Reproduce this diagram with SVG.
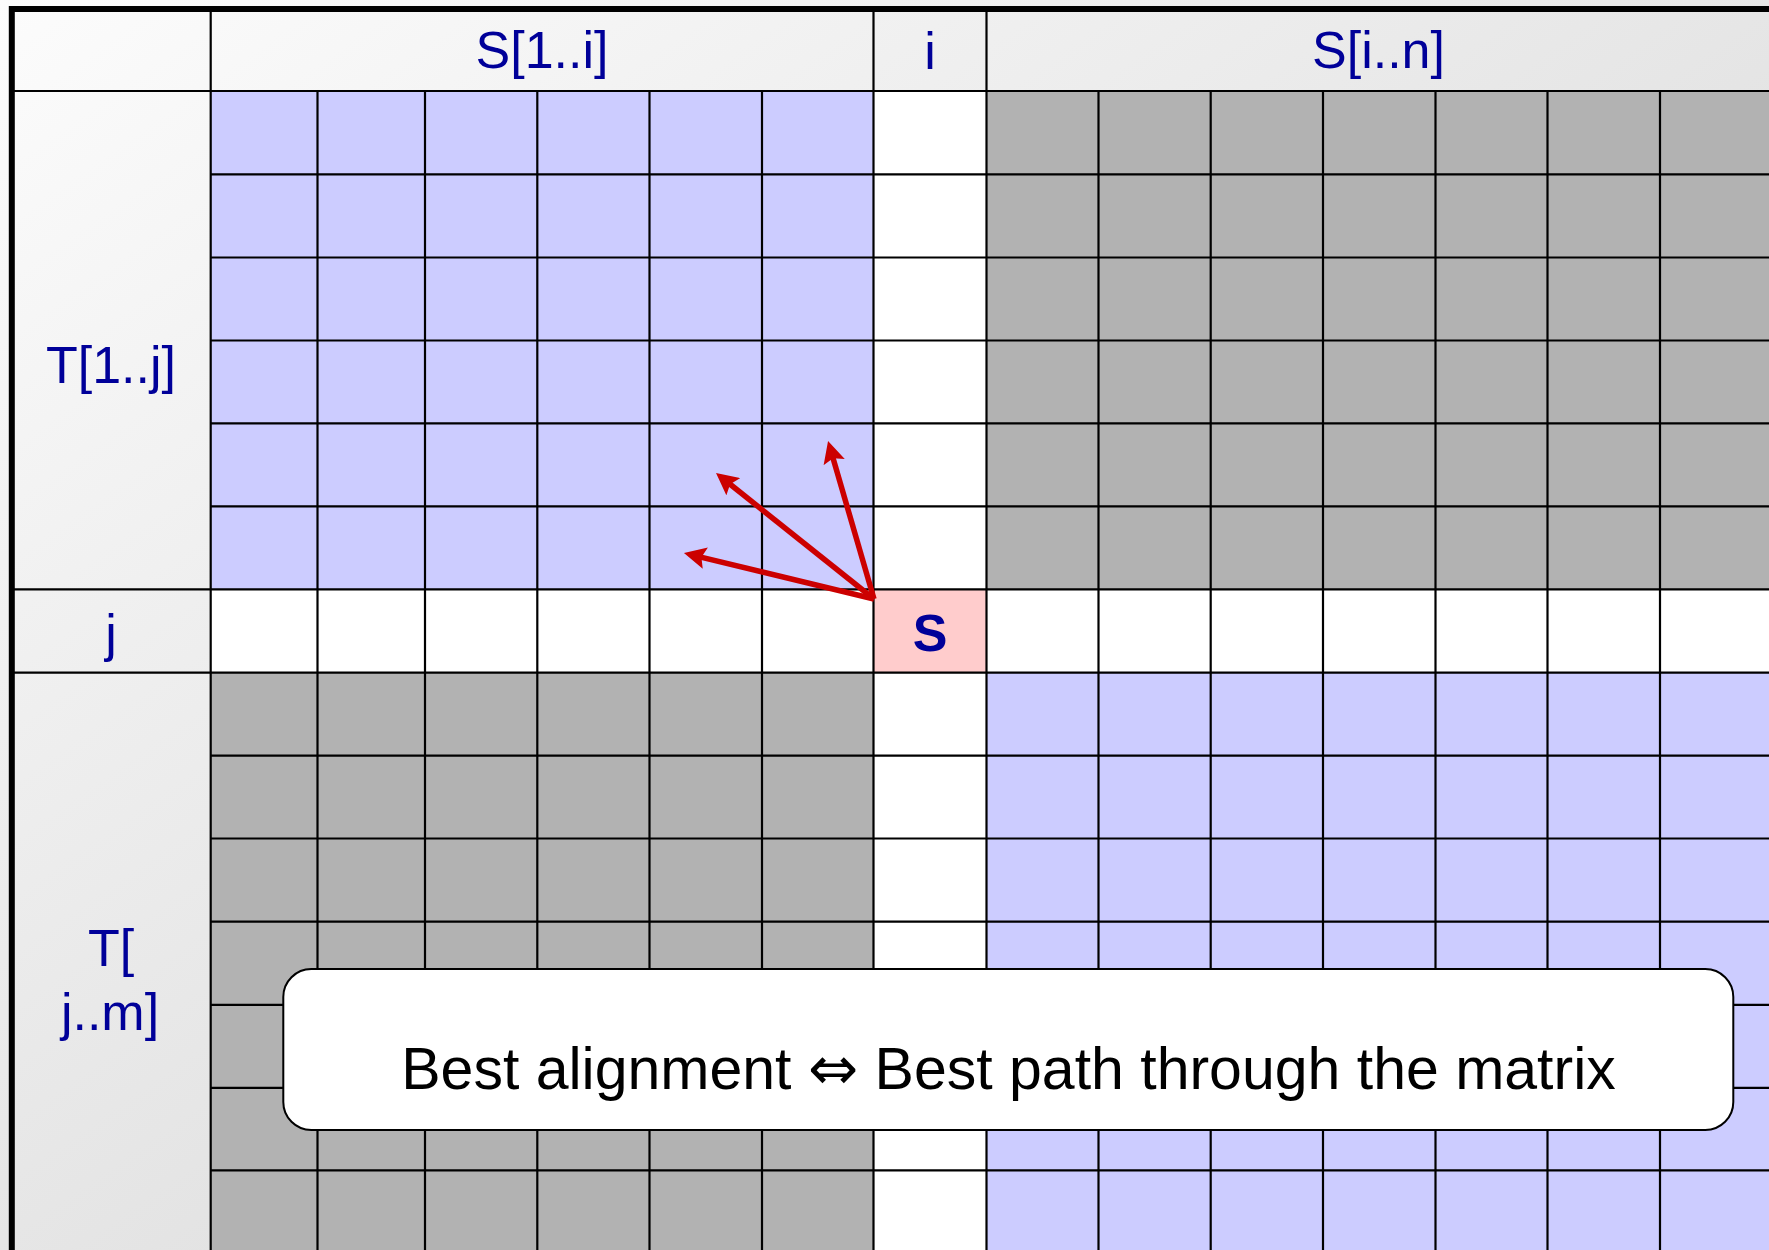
<svg xmlns="http://www.w3.org/2000/svg" width="1769" height="1250" viewBox="0 0 1769 1250">
<defs>
<linearGradient id="bg" gradientUnits="userSpaceOnUse" x1="0" y1="0" x2="900" y2="1290">
<stop offset="0" stop-color="#fcfcfc"/>
<stop offset="1" stop-color="#dadada"/>
</linearGradient>
<marker id="ah" markerUnits="userSpaceOnUse" markerWidth="22" markerHeight="22" viewBox="0 0 22 22" refX="10" refY="11" orient="auto">
<path d="M0,0 L22,11 L0,22 L4,11 z" fill="#cc0000"/>
</marker>
</defs>
<style>
.lbl{font-family:"Liberation Sans",Arial,sans-serif;font-size:52px;fill:#000099;text-anchor:middle}
.blue{fill:#ccccff}
.gray{fill:#b2b2b2}
.white{fill:#ffffff}
.grid line{stroke:#000;stroke-width:2.2}
.arr{stroke:#cc0000;stroke-width:5.5;fill:none;marker-end:url(#ah)}
</style>
<rect x="0" y="0" width="1769" height="1250" fill="url(#bg)"/>

<g id="region-top-left-blue"><rect class="blue" x="210.7" y="91" width="662.8" height="498.4"/></g>
<g id="region-top-right-gray"><rect class="gray" x="986.5" y="91" width="790" height="498.4"/></g>
<g id="region-bottom-left-gray"><rect class="gray" x="210.7" y="672.6" width="662.8" height="590"/></g>
<g id="region-bottom-right-blue"><rect class="blue" x="986.5" y="672.6" width="790" height="590"/></g>
<g id="column-i"><rect class="white" x="873.5" y="91" width="113" height="1170"/></g>
<g id="row-j"><rect class="white" x="210.7" y="589.4" width="1570" height="83.2"/></g>
<g id="cell-s"><rect fill="#ffcccc" x="873.5" y="589.4" width="113" height="83.2"/>
<text x="930" y="651" style="font-family:'Liberation Sans',Arial,sans-serif;font-size:52px;font-weight:bold;fill:#000099;text-anchor:middle">S</text></g>

<g class="grid" id="grid">
<line x1="210.7" y1="12" x2="210.7" y2="1260"/>
<line x1="317.5" y1="91" x2="317.5" y2="1260"/>
<line x1="425" y1="91" x2="425" y2="1260"/>
<line x1="537.3" y1="91" x2="537.3" y2="1260"/>
<line x1="649.5" y1="91" x2="649.5" y2="1260"/>
<line x1="762" y1="91" x2="762" y2="1260"/>
<line x1="873.5" y1="12" x2="873.5" y2="1260"/>
<line x1="986.5" y1="12" x2="986.5" y2="1260"/>
<line x1="1098.5" y1="91" x2="1098.5" y2="1260"/>
<line x1="1210.7" y1="91" x2="1210.7" y2="1260"/>
<line x1="1323" y1="91" x2="1323" y2="1260"/>
<line x1="1435.5" y1="91" x2="1435.5" y2="1260"/>
<line x1="1547.5" y1="91" x2="1547.5" y2="1260"/>
<line x1="1660" y1="91" x2="1660" y2="1260"/>
<line x1="14" y1="91" x2="1780" y2="91"/>
<line x1="210.7" y1="174.3" x2="1780" y2="174.3"/>
<line x1="210.7" y1="257.5" x2="1780" y2="257.5"/>
<line x1="210.7" y1="340.5" x2="1780" y2="340.5"/>
<line x1="210.7" y1="423.4" x2="1780" y2="423.4"/>
<line x1="210.7" y1="506.3" x2="1780" y2="506.3"/>
<line x1="14" y1="589.4" x2="1780" y2="589.4"/>
<line x1="14" y1="672.6" x2="1780" y2="672.6"/>
<line x1="210.7" y1="755.6" x2="1780" y2="755.6"/>
<line x1="210.7" y1="838.5" x2="1780" y2="838.5"/>
<line x1="210.7" y1="921.7" x2="1780" y2="921.7"/>
<line x1="210.7" y1="1004.9" x2="1780" y2="1004.9"/>
<line x1="210.7" y1="1087.9" x2="1780" y2="1087.9"/>
<line x1="210.7" y1="1170.3" x2="1780" y2="1170.3"/>
</g>
<g id="border"><rect x="11.8" y="9" width="1800" height="1300" fill="none" stroke="#000" stroke-width="6"/></g>

<g id="header-labels">
<text class="lbl" x="542" y="68">S[1..i]</text>
<text class="lbl" x="930" y="69">i</text>
<text class="lbl" x="1378.5" y="68">S[i..n]</text>
<text class="lbl" x="111" y="383">T[1..j]</text>
<text class="lbl" x="111" y="651">j</text>
<text class="lbl" x="111" y="966">T[</text>
<text class="lbl" x="110" y="1030">j..m]</text>
</g>

<g id="connectors">
<line class="arr" x1="874" y1="599" x2="831.4" y2="452.5"/>
<line class="arr" x1="874" y1="599" x2="725.4" y2="480.5"/>
<line class="arr" x1="874" y1="599" x2="695.6" y2="555.8"/>
</g>

<g id="caption">
<rect x="283.3" y="969" width="1450" height="161" rx="28" ry="28" fill="#fff" stroke="#000" stroke-width="2"/>
<text x="1008.5" y="1089" style="font-family:'Liberation Sans',Arial,sans-serif;font-size:59px;fill:#000;text-anchor:middle">Best alignment <tspan style="font-family:'DejaVu Sans',sans-serif;font-size:60px">⇔</tspan> Best path through the matrix</text>
</g>
</svg>
